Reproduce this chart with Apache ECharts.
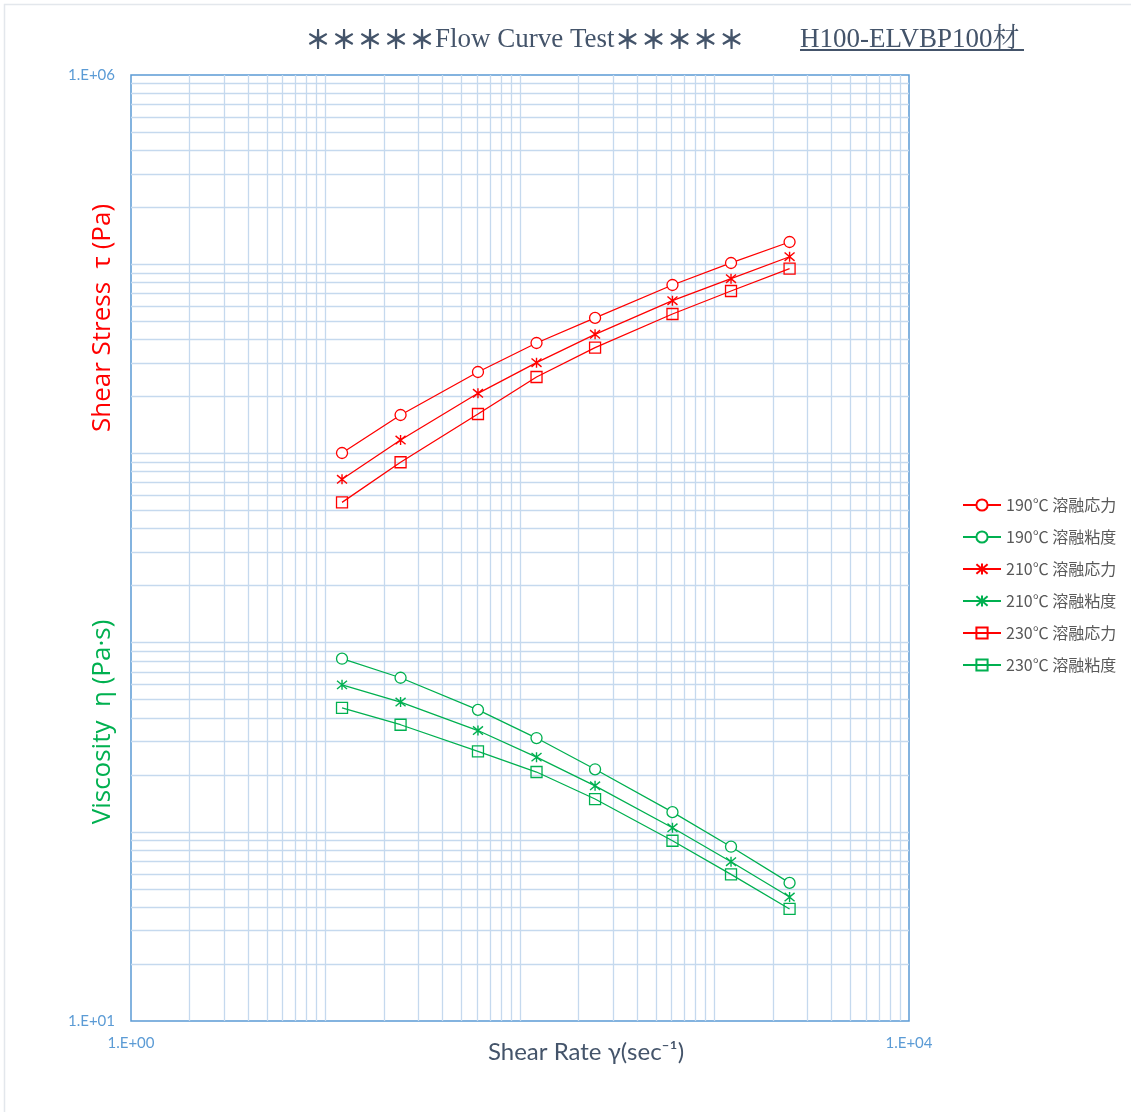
<!DOCTYPE html>
<html>
<head>
<meta charset="utf-8">
<script src="https://cdn.jsdelivr.net/npm/echarts@6/dist/echarts.min.js"></script>
<style>
  html, body { margin: 0; padding: 0; background: #fff; }
  #chart { width: 1131px; height: 1112px; }
</style>
</head>
<body>
<div id="chart"></div>
<script>
// Shear rate (1/s)
const shearRate = [12.16, 24.32, 60.8, 121.6, 243.2, 608, 1216, 2432];

// Shear stress (Pa)
const stress190 = [10050, 15960, 26930, 38330, 52000, 77630, 101500, 131000];
const stress210 = [7300, 11770, 20780, 30160, 42610, 64130, 83820, 109500];
const stress230 = [5510, 8980, 16150, 25340, 36210, 54560, 72170, 94670];

// Melt viscosity (Pa·s)
const visc190 = [822, 652, 441, 313, 214, 127, 83.4, 53.7];
const visc210 = [598, 485, 343, 248, 175, 105, 69.5, 45.2];
const visc230 = [452, 368, 266, 207, 149, 89.7, 59.6, 39.1];

const seriesNames = [
  '190℃ 溶融応力', '190℃ 溶融粘度',
  '210℃ 溶融応力', '210℃ 溶融粘度',
  '230℃ 溶融応力', '230℃ 溶融粘度'
];

// Only the end decades carry a label
const xTickLabels = { 0: '1.E+00', 4: '1.E+04' };
const yTickLabels = { 1: '1.E+01', 6: '1.E+06' };

const RED = '#ff0000';
const GREEN = '#00b050';
const GRID_COLOR = '#c5d9ee';
const FRAME_COLOR = '#5b9bd5';
const TITLE_COLOR = '#44546a';

const STAR = 'path://M-1,-1L1,1M-1,1L1,-1M0,-1.2L0,1.2';

function pairs(ys) { return shearRate.map((x, i) => [x, ys[i]]); }

function markerStyle(shape, color) {
  if (shape === 'circle') {
    return { symbol: 'circle', symbolSize: 11,
      itemStyle: { color: '#ffffff', borderColor: color, borderWidth: 1.3 } };
  }
  if (shape === 'star') {
    return { symbol: STAR, symbolSize: 10,
      itemStyle: { color: 'rgba(0,0,0,0)', borderColor: color, borderWidth: 1.4 } };
  }
  return { symbol: 'rect', symbolSize: 11,
    itemStyle: { color: 'rgba(0,0,0,0)', borderColor: color, borderWidth: 1.3 } };
}

function dataSeries(name, ys, shape, color) {
  return Object.assign({
    name: name,
    type: 'line',
    data: pairs(ys),
    z: 5,
    lineStyle: { color: color, width: 1.3 },
    emphasis: { disabled: true },
    animation: false
  }, markerStyle(shape, color));
}

// Log grid: every integer multiple within each decade
function logGridValues(lo, hi) {
  const out = [];
  for (let e = lo; e < hi; e++) {
    for (let m = 1; m <= 9; m++) {
      const v = m * Math.pow(10, e);
      if (v > Math.pow(10, lo)) out.push(v);
    }
  }
  return out;
}
const xGrid = logGridValues(0, 4);
const yGrid = logGridValues(1, 6);

const gridSeries = {
  name: '_grid',
  type: 'line',
  data: [],
  z: 1,
  silent: true,
  animation: false,
  markLine: {
    silent: true,
    symbol: 'none',
    animation: false,
    label: { show: false },
    lineStyle: { color: GRID_COLOR, width: 1.3, type: 'solid' },
    emphasis: { disabled: true },
    data: xGrid.map(v => ({ xAxis: v })).concat(yGrid.map(v => ({ yAxis: v })))
  }
};

const labelFont = 'Lato, "Open Sans", sans-serif';
const serifFont = '"Liberation Serif", "Noto Serif CJK JP", "Noto Sans CJK JP", serif';

const option = {
  backgroundColor: '#ffffff',
  animation: false,
  grid: {
    left: 131, top: 75, width: 778, height: 946,
    show: true, borderColor: FRAME_COLOR, borderWidth: 1.5,
    backgroundColor: 'transparent'
  },
  xAxis: {
    type: 'log', logBase: 10, min: 1, max: 10000,
    axisLine: { show: false },
    axisTick: { show: false },
    splitLine: { show: false },
    axisLabel: {
      show: true, margin: 15, fontSize: 15, color: FRAME_COLOR, fontFamily: labelFont,
      showMinLabel: true, showMaxLabel: true,
      formatter: v => xTickLabels[Math.round(Math.log10(v))] || ''
    }
  },
  yAxis: {
    type: 'log', logBase: 10, min: 10, max: 1000000,
    axisLine: { show: false },
    axisTick: { show: false },
    splitLine: { show: false },
    axisLabel: {
      show: true, margin: 16, fontSize: 15, color: FRAME_COLOR, fontFamily: labelFont,
      showMinLabel: true, showMaxLabel: true,
      formatter: v => yTickLabels[Math.round(Math.log10(v))] || ''
    }
  },
  legend: {
    orient: 'vertical',
    left: 962, top: 497, padding: 0,
    itemWidth: 38, itemHeight: 14, itemGap: 16,
    data: seriesNames,
    textStyle: { fontSize: 16, color: '#595959', fontFamily: '"Noto Sans CJK JP", sans-serif' },
    selectedMode: false
  },
  graphic: [
    { type: 'rect', silent: true, z: -10,
      shape: { x: 4.5, y: 4.5, width: 1200, height: 1200 },
      style: { fill: 'none', stroke: '#e3e7ec', lineWidth: 1.5 } },
    { type: 'text', left: 305, top: 26, silent: true,
      style: {
        text: '{a|＊＊＊＊＊}{b|Flow Curve Test}{a|＊＊＊＊＊}',
        rich: {
          a: { fontSize: 26, fontWeight: 'bold', fill: TITLE_COLOR, fontFamily: '"Noto Sans CJK JP", sans-serif' },
          b: { fontSize: 27, fill: TITLE_COLOR, fontFamily: serifFont }
        }
      } },
    { type: 'text', left: 800, top: 26, silent: true,
      style: { text: 'H100-ELVBP100材', fill: TITLE_COLOR, font: '27px ' + serifFont } },
    { type: 'rect', silent: true,
      shape: { x: 800, y: 49, width: 224, height: 2 },
      style: { fill: TITLE_COLOR } },
    { type: 'text', x: 586, y: 1052, silent: true,
      style: { text: 'Shear Rate γ(sec⁻¹)', fill: TITLE_COLOR, align: 'center', verticalAlign: 'middle',
        font: '24px ' + labelFont } },
    { type: 'text', x: 103, y: 318, rotation: Math.PI / 2, silent: true,
      style: { text: 'Shear Stress  τ (Pa)', fill: RED, align: 'center', verticalAlign: 'middle',
        font: '26px "Open Sans", sans-serif' } },
    { type: 'text', x: 103, y: 722, rotation: Math.PI / 2, silent: true,
      style: { text: 'Viscosity  η (Pa·s)', fill: GREEN, align: 'center', verticalAlign: 'middle',
        font: '26px "Open Sans", sans-serif' } }
  ],
  series: [
    gridSeries,
    dataSeries(seriesNames[0], stress190, 'circle', RED),
    dataSeries(seriesNames[1], visc190, 'circle', GREEN),
    dataSeries(seriesNames[2], stress210, 'star', RED),
    dataSeries(seriesNames[3], visc210, 'star', GREEN),
    dataSeries(seriesNames[4], stress230, 'rect', RED),
    dataSeries(seriesNames[5], visc230, 'rect', GREEN)
  ]
};

const chart = echarts.init(document.getElementById('chart'), null, { renderer: 'canvas' });
chart.setOption(option);
</script>
</body>
</html>
